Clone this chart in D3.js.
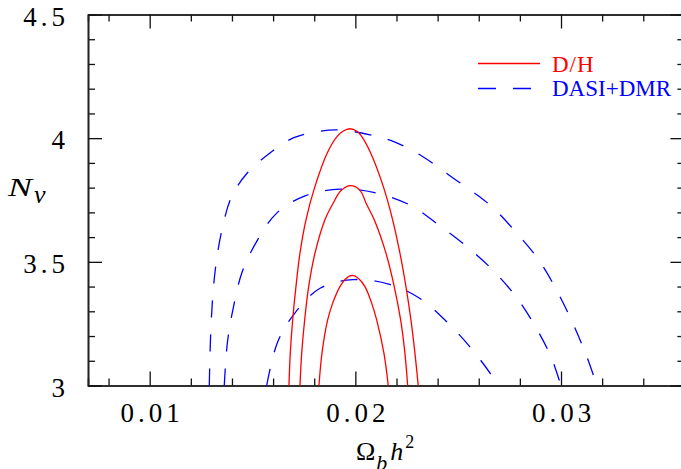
<!DOCTYPE html>
<html>
<head>
<meta charset="utf-8">
<script src="https://cdn.jsdelivr.net/npm/d3@7"></script>
<style>
  body { margin: 0; background: #fff; }
  svg { display: block; }
  .tick text { font-family: "Liberation Serif", serif; font-size: 27px; letter-spacing: 4px; fill: #000; }
  .lbl { font-family: "Liberation Serif", serif; fill: #000; }
  .leg { font-family: "Liberation Serif", serif; font-size: 23px; }
</style>
</head>
<body>
<svg id="chart" width="681" height="469"></svg>
<script>
// ---- data ----
var xTicks = [0.01, 0.02, 0.03];
var yTicks = [3, 3.5, 4, 4.5];
var legendLabels = ['D/H', 'DASI+DMR'];

// D/H contours (solid red), [omega_b h^2, N_nu]
var dhOuter = [[0.016772,3.0],[0.016835,3.130],[0.016952,3.265],[0.017112,3.400],[0.017307,3.535],
  [0.017599,3.670],[0.018037,3.805],[0.018634,3.940],[0.019115,4.007],[0.019397,4.028],[0.019738,4.038],
  [0.020078,4.028],[0.020306,4.007],[0.020744,3.940],[0.021357,3.805],[0.021813,3.670],[0.022168,3.535],
  [0.022460,3.400],[0.022703,3.265],[0.022898,3.130],[0.023058,3.0]];
var dhMiddle = [[0.017307,3.0],[0.017390,3.130],[0.017535,3.265],[0.017730,3.400],[0.018037,3.535],
  [0.018522,3.670],[0.018926,3.738],[0.019295,3.787],[0.019772,3.808],[0.020248,3.787],[0.020515,3.738],
  [0.020919,3.670],[0.021488,3.535],[0.021891,3.400],[0.022202,3.265],[0.022411,3.130],[0.022543,3.0]];
var dhInner = [[0.018231,3.0],[0.018376,3.130],[0.018653,3.265],[0.018897,3.333],[0.019251,3.400],
  [0.019533,3.432],[0.019849,3.445],[0.020165,3.432],[0.020467,3.400],[0.020793,3.333],[0.021036,3.265],
  [0.021391,3.130],[0.021600,3.0]];

// DASI+DMR contours (dashed blue)
var cmbOuter = [[0.012897,3.0],[0.012995,3.265],[0.013189,3.468],[0.013515,3.630],[0.013986,3.764],
  [0.014745,3.859],[0.015848,3.940],[0.016981,4.001],[0.018279,4.028],[0.019251,4.033],[0.020793,4.012],
  [0.021925,3.984],[0.023287,3.925],[0.024648,3.845],[0.025912,3.771],[0.026738,3.715],[0.027915,3.610],
  [0.028975,3.501],[0.029825,3.379],[0.030579,3.251],[0.031225,3.123],[0.031746,3.0]];
var cmbMiddle = [[0.013627,3.0],[0.013782,3.176],[0.014064,3.314],[0.014487,3.457],[0.015192,3.581],
  [0.016164,3.696],[0.017550,3.767],[0.019251,3.794],[0.020938,3.780],[0.022718,3.727],[0.024050,3.649],
  [0.025489,3.557],[0.026738,3.462],[0.027856,3.354],[0.028756,3.238],[0.029523,3.114],[0.029995,3.0]];
var cmbInner = [[0.015688,3.0],[0.016213,3.174],[0.017049,3.292],[0.018303,3.394],[0.019883,3.428],
  [0.021619,3.410],[0.023102,3.354],[0.024404,3.261],[0.025571,3.156],[0.026626,3.040],[0.026869,3.0]];

(function() {
  // ---- layout ----
  var svg = d3.select('#chart');
  var pLeft = 88, pRight = 684.4, pTop = 14.5, pBottom = 385.5;

  var x = d3.scaleLinear().domain([0.007, 0.036]).range([pLeft, pRight]);
  var y = d3.scaleLinear().domain([3, 4.5]).range([pBottom, pTop]);

  var xMinor = d3.range(0.008, 0.0361, 0.002).filter(function(v) {
    return xTicks.every(function(t) { return Math.abs(t - v) > 1e-6; });
  });
  var yMinor = d3.range(3.1, 4.5, 0.1).filter(function(v) {
    return yTicks.every(function(t) { return Math.abs(t - v) > 1e-6; });
  });

  function styleAxis(g) {
    g.select('.domain').attr('stroke', '#222').attr('stroke-width', 1.6);
    g.selectAll('.tick line').attr('stroke', '#111').attr('stroke-width', 1.3);
  }

  // minor ticks (no labels)
  svg.append('g').attr('transform', 'translate(0,' + pBottom + ')')
    .call(d3.axisBottom(x).tickValues(xMinor).tickSize(-7).tickFormat(''))
    .call(styleAxis);
  svg.append('g').attr('transform', 'translate(0,' + pTop + ')')
    .call(d3.axisTop(x).tickValues(xMinor).tickSize(-7).tickFormat(''))
    .call(styleAxis);
  svg.append('g').attr('transform', 'translate(' + pLeft + ',0)')
    .call(d3.axisLeft(y).tickValues(yMinor).tickSize(-7).tickFormat(''))
    .call(styleAxis);
  svg.append('g').attr('transform', 'translate(' + pRight + ',0)')
    .call(d3.axisRight(y).tickValues(yMinor).tickSize(-7).tickFormat(''))
    .call(styleAxis);

  // major ticks
  svg.append('g').attr('transform', 'translate(0,' + pBottom + ')')
    .call(d3.axisBottom(x).tickValues(xTicks).tickSize(-14).tickSizeOuter(0).tickPadding(17)
      .tickFormat(function(d) { return String(d); }))
    .call(styleAxis)
    .selectAll('.tick text').attr('dx', '2px');
  svg.append('g').attr('transform', 'translate(0,' + pTop + ')')
    .call(d3.axisTop(x).tickValues(xTicks).tickSize(-14).tickSizeOuter(0).tickFormat(''))
    .call(styleAxis);
  svg.append('g').attr('transform', 'translate(' + pLeft + ',0)')
    .call(d3.axisLeft(y).tickValues(yTicks).tickSize(-14).tickSizeOuter(0).tickPadding(19)
      .tickFormat(function(d) { return String(d); }))
    .call(styleAxis)
    .selectAll('.tick text').attr('dy', '0.4em');
  svg.append('g').attr('transform', 'translate(' + pRight + ',0)')
    .call(d3.axisRight(y).tickValues(yTicks).tickSize(-14).tickSizeOuter(0).tickFormat(''))
    .call(styleAxis);

  // ---- contours ----
  var line = d3.line()
    .x(function(d) { return x(d[0]); })
    .y(function(d) { return y(d[1]); })
    .curve(d3.curveCatmullRom.alpha(0.5));

  var plot = svg.append('g');
  [cmbOuter, cmbMiddle, cmbInner].forEach(function(c) {
    plot.append('path').datum(c).attr('d', line)
      .attr('fill', 'none').attr('stroke', '#0000ff').attr('stroke-width', 1.3)
      .attr('stroke-dasharray', '17,17');
  });
  [dhOuter, dhMiddle, dhInner].forEach(function(c) {
    plot.append('path').datum(c).attr('d', line)
      .attr('fill', 'none').attr('stroke', '#ff0000').attr('stroke-width', 1.3);
  });

  // ---- legend ----
  var leg = svg.append('g');
  leg.append('line').attr('x1', 478).attr('x2', 540).attr('y1', 63.5).attr('y2', 63.5)
    .attr('stroke', '#ff0000').attr('stroke-width', 1.3);
  leg.append('text').attr('class', 'leg').attr('x', 552).attr('y', 72).attr('fill', '#ff0000')
    .style('letter-spacing', '1px').text(legendLabels[0]);
  leg.append('line').attr('x1', 478).attr('x2', 540).attr('y1', 88.5).attr('y2', 88.5)
    .attr('stroke', '#0000ff').attr('stroke-width', 1.3).attr('stroke-dasharray', '18,17');
  leg.append('text').attr('class', 'leg').attr('x', 552).attr('y', 96).attr('fill', '#0000ff')
    .text(legendLabels[1]);

  // ---- axis titles ----
  var yl = svg.append('text').attr('class', 'lbl').attr('x', 8).attr('y', 196).style('font-size', '25px');
  yl.append('tspan').style('font-style', 'italic').attr('textLength', 24).attr('lengthAdjust', 'spacingAndGlyphs').text('N');
  yl.append('tspan').style('font-style', 'italic').style('font-size', '26px').attr('dx', 2).attr('dy', 7).text('ν');

  var xl = svg.append('text').attr('class', 'lbl').attr('x', 356).attr('y', 460).style('font-size', '26px');
  xl.append('tspan').text('Ω');
  xl.append('tspan').style('font-style', 'italic').style('font-size', '22px').attr('dx', 1).attr('dy', 10).text('b');
  xl.append('tspan').style('font-style', 'italic').attr('dx', 3).attr('dy', -10).text('h');
  xl.append('tspan').style('font-size', '18px').attr('dx', 2).attr('dy', -12).text('2');
})();
</script>
</body>
</html>
